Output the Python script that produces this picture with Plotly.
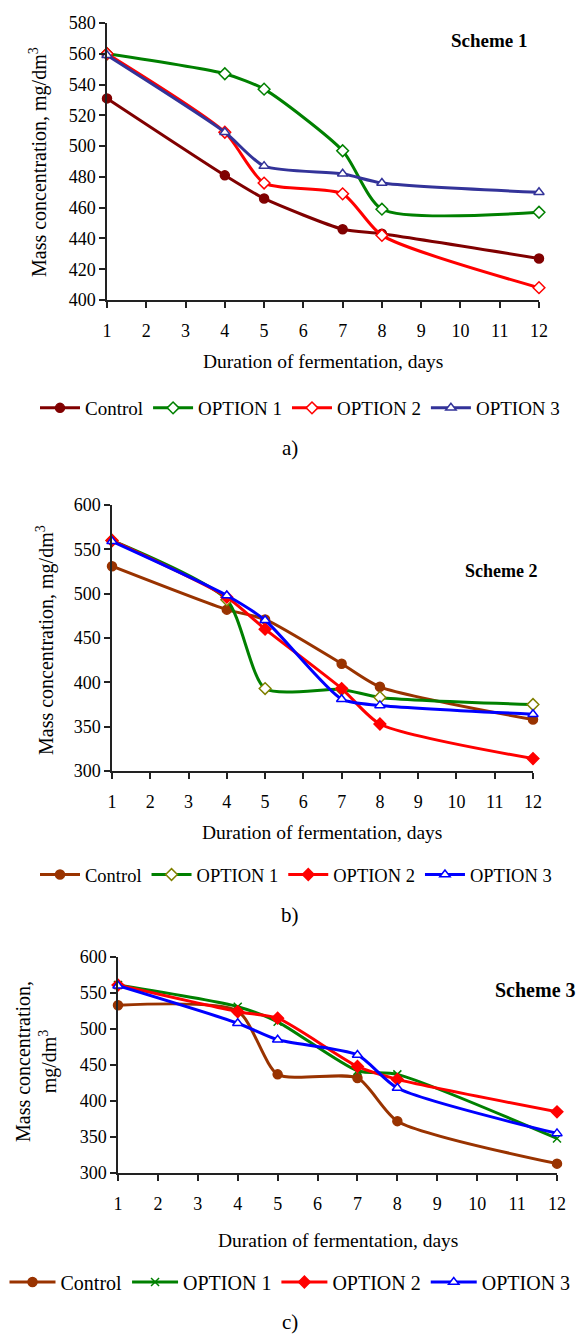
import plotly.graph_objects as go

W, H = 579, 1336
FONT = "Liberation Serif"

days = [1, 4, 5, 7, 8, 12]
day_ticks = list(range(1, 13))
series_names = ["Control", "OPTION 1", "OPTION 2", "OPTION 3"]

# Scheme 1 (a)
s1_control = [531, 481, 466, 446, 443, 427]
s1_opt1 = [560, 547, 537, 497, 459, 457]
s1_opt2 = [560, 509, 476, 469, 442, 408]
s1_opt3 = [559, 509, 487, 482, 476, 470]

# Scheme 2 (b)
s2_control = [531, 482, 471, 421, 395, 358]
s2_opt1 = [560, 493, 393, 392, 383, 375]
s2_opt2 = [560, 496, 460, 393, 353, 314]
s2_opt3 = [559, 498, 470, 381, 374, 364]

# Scheme 3 (c)
s3_control = [533, 525, 437, 432, 372, 313]
s3_opt1 = [561, 531, 510, 442, 437, 348]
s3_opt2 = [561, 524, 515, 448, 430, 385]
s3_opt3 = [560, 508, 485, 464, 418, 355]


def fx(p):
    return p / W


def fy(p):
    return 1 - p / H


# marker styles: (line colour, symbol, fill, marker line colour)
styles = {
    1: [
        ("#800000", "circle", "#800000", "#800000"),
        ("#008000", "diamond", "white", "#008000"),
        ("#FF0000", "diamond", "white", "#FF0000"),
        ("#333399", "triangle-up", "white", "#333399"),
    ],
    2: [
        ("#993300", "circle", "#993300", "#993300"),
        ("#008000", "diamond", "white", "#808000"),
        ("#FF0000", "diamond", "#FF0000", "#FF0000"),
        ("#0000FF", "triangle-up", "white", "#0000FF"),
    ],
    3: [
        ("#993300", "circle", "#993300", "#993300"),
        ("#008000", "x-thin", "#008000", "#008000"),
        ("#FF0000", "diamond", "#FF0000", "#FF0000"),
        ("#0000FF", "triangle-up", "white", "#0000FF"),
    ],
}

panels = [
    dict(n=1, data=[s1_control, s1_opt1, s1_opt2, s1_opt3], box=(107, 539, 23, 300),
         yr=(400, 580), dt=20, scheme="Scheme 1", sch=(489, 40), schsize=19, cap="a)",
         xt=(323, 361), leg=(300, 408), legsize=19, legw=40, capy=448,
         yt=(38, 162), ytext="Mass concentration, mg/dm<sup>3</sup>"),
    dict(n=2, data=[s2_control, s2_opt1, s2_opt2, s2_opt3], box=(112, 533, 505, 771),
         yr=(300, 600), dt=50, scheme="Scheme 2", sch=(501, 571), schsize=18, cap="b)",
         xt=(322, 832), leg=(296, 875), legsize=18.5, legw=40, capy=915,
         yt=(45, 640), ytext="Mass concentration, mg/dm<sup>3</sup>"),
    dict(n=3, data=[s3_control, s3_opt1, s3_opt2, s3_opt3], box=(118, 557, 957, 1173),
         yr=(300, 600), dt=50, scheme="Scheme 3", sch=(535, 990), schsize=20, cap="c)",
         xt=(338, 1240), leg=(290, 1282), legsize=20, legw=46, capy=1322,
         yt=(36, 1062), ytext="Mass concentration,<br>mg/dm<sup>3</sup>"),
]

fig = go.Figure()
annotations = []
layout = dict(
    template="none",
    width=W, height=H, margin=dict(l=0, r=0, t=0, b=0, pad=0, autoexpand=False),
    paper_bgcolor="white", plot_bgcolor="white",
    font=dict(family=FONT, size=18, color="black"),
    showlegend=True,
)

for p in panels:
    n = p["n"]
    sfx = "" if n == 1 else str(n)
    legname = "legend" if n == 1 else f"legend{n}"
    for vals, name, st in zip(p["data"], series_names, styles[n]):
        lc, sym, fill, mlc = st
        fig.add_trace(go.Scatter(
            x=days, y=vals, name=name, mode="lines+markers",
            xaxis="x" + sfx, yaxis="y" + sfx, legend=legname,
            line=dict(color=lc, width=3, shape="spline", smoothing=0.65),
            marker=dict(symbol=sym, size=9 if sym != "x-thin" else 8, color=fill,
                        line=dict(color=mlc, width=1.5)),
            cliponaxis=False,
        ))
    x0, x1, y0, y1 = p["box"]
    axstyle = dict(showline=True, linecolor="#222", linewidth=1.5, ticks="outside",
                   tickcolor="#222", tickwidth=1.5, ticklen=6, showgrid=False,
                   zeroline=False, automargin=False, tickfont=dict(family=FONT, size=18))
    layout["xaxis" + sfx] = dict(domain=[fx(x0), fx(x1)], range=[1, 12], tickmode="array",
                                 tickvals=day_ticks, anchor="y" + sfx,
                                 ticklabelstandoff=8, **axstyle)
    layout["yaxis" + sfx] = dict(domain=[fy(y1), fy(y0)], range=list(p["yr"]), dtick=p["dt"],
                                 tick0=p["yr"][0], anchor="x" + sfx, **axstyle)
    layout[legname] = dict(orientation="h", x=fx(p["leg"][0]), xanchor="center",
                           y=fy(p["leg"][1]), yanchor="middle",
                           font=dict(family=FONT, size=p["legsize"]), bgcolor="rgba(0,0,0,0)",
                           itemwidth=p["legw"], tracegroupgap=0)
    annotations += [
        dict(text="<b>" + p["scheme"] + "</b>", x=fx(p["sch"][0]), y=fy(p["sch"][1]),
             xref="paper", yref="paper",
             showarrow=False, font=dict(family=FONT, size=p["schsize"], color="black"),
             xanchor="center", yanchor="middle"),
        dict(text="Duration of fermentation, days", x=fx(p["xt"][0]), y=fy(p["xt"][1]),
             xref="paper", yref="paper", showarrow=False, xanchor="center", yanchor="middle",
             font=dict(family=FONT, size=19.5)),
        dict(text=p["cap"], x=fx(290), y=fy(p["capy"]), xref="paper", yref="paper",
             showarrow=False, xanchor="center", yanchor="middle",
             font=dict(family=FONT, size=21)),
        dict(text=p["ytext"], x=fx(p["yt"][0]), y=fy(p["yt"][1]), xref="paper", yref="paper",
             showarrow=False, textangle=-90, xanchor="center", yanchor="middle",
             font=dict(family=FONT, size=20)),
    ]

layout["annotations"] = annotations
fig.update_layout(**layout)
fig.write_html("out.html", config={"displayModeBar": False},
               post_script="document.body.style.margin='0';document.body.style.overflow='hidden';")
